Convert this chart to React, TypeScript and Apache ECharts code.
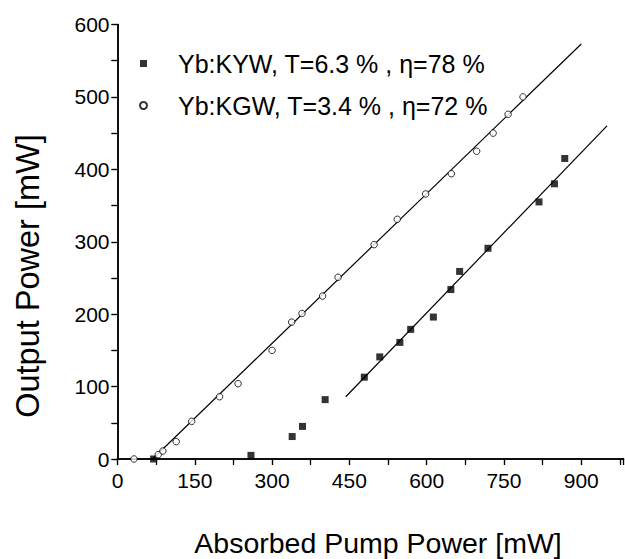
import { useEffect, useRef } from "react";
import * as echarts from "echarts";

const xTickStep = 150;
const yTickStep = 100;
const xMax = 982;
const yMax = 600;

const kywLabel = "Yb:KYW, T=6.3 % , η=78 %";
const kgwLabel = "Yb:KGW, T=3.4 % , η=72 %";
const xTitle = "Absorbed Pump Power [mW]";
const yTitle = "Output Power [mW]";

const kywPoints: number[][] = [
  [70, 0], [259, 5], [339, 31], [359, 45], [403, 82], [479, 113], [509, 141],
  [548, 161], [569, 179], [613, 196], [647, 234], [664, 259], [719, 291],
  [818, 355], [848, 380], [868, 415],
];
const kgwPoints: number[][] = [
  [32, 0], [79, 6], [88, 11], [114, 24], [144, 52], [198, 86], [234, 104],
  [300, 150], [338, 189], [358, 201], [398, 225], [428, 251], [498, 296],
  [543, 331], [598, 366], [648, 394], [697, 425], [729, 450], [758, 476],
  [787, 500],
];
const kywFit: number[][] = [[443, 86], [950, 460]];
const kgwFit: number[][] = [[68, 0], [900, 573]];

const FONT = "'Liberation Sans', Arial, sans-serif";

export default function App() {
  const ref = useRef<HTMLDivElement>(null);
  useEffect(() => {
    if (!ref.current) return;
    const chart = echarts.init(ref.current, undefined, { renderer: "svg" });
    const axisLine = { show: true, lineStyle: { color: "#000", width: 1.5 } };
    const label = {
      color: "#000",
      fontSize: 21,
      fontFamily: FONT,
    };
    chart.setOption({
      animation: false,
      backgroundColor: "#fff",
      grid: {
        left: 117.5,
        right: 1.5,
        top: 24.5,
        bottom: 100,
        containLabel: false,
        outerBoundsMode: "none",
      },
      legend: {
        data: [kywLabel, kgwLabel],
        orient: "vertical",
        left: 134,
        top: 46,
        itemWidth: 7,
        itemHeight: 7,
        itemGap: 17,
        textStyle: {
          color: "#000",
          fontSize: 25,
          lineHeight: 25,
          fontFamily: FONT,
          padding: [0, 0, 0, 26],
        },
      },
      xAxis: [
        {
          type: "value",
          position: "bottom",
          min: 0,
          max: xMax,
          interval: xTickStep,
          splitLine: { show: false },
          axisLine,
          axisTick: { show: true, inside: false, length: 6, lineStyle: { color: "#000", width: 1.2 } },
          minorTick: { show: true, splitNumber: 2, length: 4, lineStyle: { color: "#000", width: 1.2 } },
          axisLabel: {
            ...label,
            margin: 11,
            showMaxLabel: false,
            formatter: (v: number) => (v % xTickStep === 0 ? String(v) : ""),
          },
        },
        {
          type: "value",
          position: "top",
          min: 0,
          max: xMax,
          interval: xTickStep,
          splitLine: { show: false },
          axisLine,
          axisTick: { show: true, inside: true, length: 6, lineStyle: { color: "#000", width: 1.2 } },
          minorTick: { show: true, splitNumber: 2, length: 6, lineStyle: { color: "#000", width: 1.2 } },
          axisLabel: { show: false },
        },
      ],
      yAxis: [
        {
          type: "value",
          position: "left",
          min: 0,
          max: yMax,
          interval: yTickStep,
          splitLine: { show: false },
          axisLine,
          axisTick: { show: true, inside: false, length: 6, lineStyle: { color: "#000", width: 1.2 } },
          minorTick: { show: true, splitNumber: 2, length: 6, lineStyle: { color: "#000", width: 1.2 } },
          axisLabel: { ...label, margin: 8 },
        },
        {
          type: "value",
          position: "right",
          min: 0,
          max: yMax,
          interval: yTickStep,
          splitLine: { show: false },
          axisLine,
          axisTick: { show: true, inside: true, length: 6, lineStyle: { color: "#000", width: 1.2 } },
          minorTick: { show: true, splitNumber: 2, length: 6, lineStyle: { color: "#000", width: 1.2 } },
          axisLabel: { show: false },
        },
      ],
      series: [
        {
          name: "kgwFit",
          type: "line",
          data: kgwFit,
          symbol: "none",
          lineStyle: { color: "#000", width: 1.2 },
          silent: true,
          z: 2,
        },
        {
          name: "kywFit",
          type: "line",
          data: kywFit,
          symbol: "none",
          lineStyle: { color: "#000", width: 1.2 },
          silent: true,
          z: 2,
        },
        {
          name: kywLabel,
          type: "scatter",
          data: kywPoints,
          symbol: "rect",
          symbolSize: 7,
          itemStyle: { color: "#000" },
          z: 3,
        },
        {
          name: kgwLabel,
          type: "scatter",
          data: kgwPoints,
          symbol: "circle",
          symbolSize: 6.5,
          itemStyle: { color: "#fff", borderColor: "#000", borderWidth: 1 },
          z: 3,
        },
      ],
      graphic: [
        {
          type: "text",
          x: 378,
          y: 543,
          style: {
            text: xTitle,
            fontSize: 28.5,
            fontFamily: FONT,
            fill: "#000",
            align: "center",
            verticalAlign: "middle",
          },
        },
        {
          type: "text",
          x: 28,
          y: 276,
          rotation: Math.PI / 2,
          style: {
            text: yTitle,
            fontSize: 32.5,
            fontFamily: FONT,
            fill: "#000",
            align: "center",
            verticalAlign: "middle",
          },
        },
      ],
    });
    return () => chart.dispose();
  }, []);
  return <div ref={ref} style={{ width: 625, height: 559, position: "absolute", left: 0, top: 0 }} />;
}
